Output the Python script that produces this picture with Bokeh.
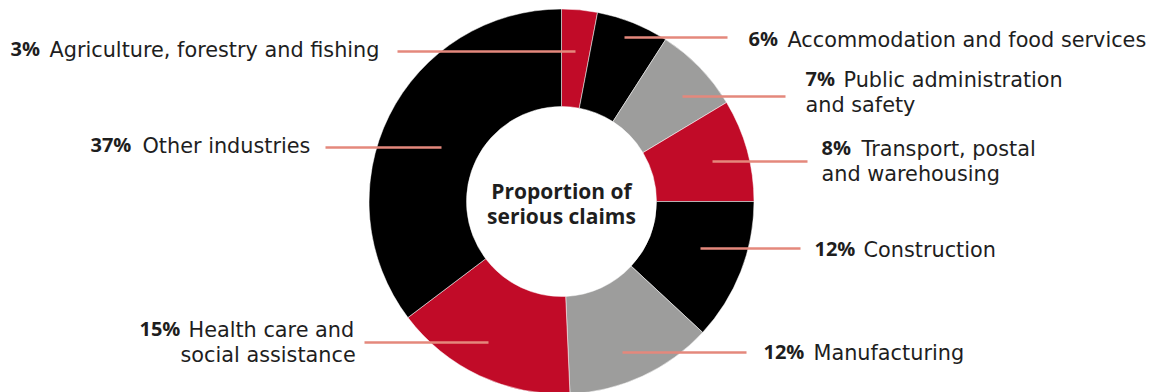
from bokeh.plotting import figure
from bokeh.models import ColumnDataSource, Range1d
from bokeh.core.properties import value
from bokeh.embed import file_html
from bokeh.resources import INLINE
import math

# ---- data ----
categories = ["Agriculture, forestry and fishing", "Accommodation and food services",
              "Public administration and safety", "Transport, postal and warehousing",
              "Construction", "Manufacturing", "Health care and social assistance",
              "Other industries"]
# wedge sizes as drawn in the picture (share of the ring, %)
shares = [3.0, 6.1, 7.3, 8.6, 11.9, 12.4, 15.4, 35.3]
pct_labels = ["3%", "6%", "7%", "8%", "12%", "12%", "15%", "37%"]
label_lines = [["Agriculture, forestry and fishing"],
               ["Accommodation and food services"],
               ["Public administration", "and safety"],
               ["Transport, postal", "and warehousing"],
               ["Construction"],
               ["Manufacturing"],
               ["Health care and", "social assistance"],
               ["Other industries"]]
center_title = ["Proportion of", "serious claims"]

# ---- styles / layout ----
RED, BLACK, GREY = "#C10B28", "#000000", "#9D9D9C"
seg_colors = [RED, BLACK, GREY, RED, BLACK, GREY, RED, BLACK]
LEAD = "#E4887C"
TXT = "#1E1E1E"
FONT_REG = "DejaVu Sans"
FONT_BOLD = "Open Sans"
FS_REG = "20.8px"
FS_BOLD = "20px"
FS_TITLE = "21px"
BOLD_DY = -1.5
W, H = 1161, 392
CX, CY = 561, 201          # screen px
R_OUT, R_IN = 192.5, 95

def sy(y):
    return H - y

# leader lines (screen px): x0, x1, y
leaders = [(397, 575, 51), (624, 727, 37), (682, 785, 96), (712, 807, 161),
           (700, 800, 248), (622, 746, 352), (364, 488, 342), (325, 441, 147)]
# label anchors: bold x, regular x (line 1), line-2 x, text centre y (line 1)
label_pos = [(10, 49, None, 49.5), (748, 787, None, 39.5), (805, 843, 805, 79),
             (821, 861, 821, 148), (814, 863, None, 249), (763, 813, None, 352),
             (139, 188, 180, 329), (90, 142, None, 145)]
LINE_GAP = 25
title_y = [190, 215.5]

p = figure(width=W, height=H, x_range=Range1d(0, W), y_range=Range1d(0, H),
           output_backend="svg", toolbar_location=None, min_border=0)
p.axis.visible = False
p.grid.visible = False
p.outline_line_color = None
p.background_fill_color = "white"
p.border_fill_color = "white"

total = sum(shares)
starts, ends = [], []
cum = 0
for v in shares:
    starts.append(math.pi / 2 - 2 * math.pi * cum / total)
    cum += v
    ends.append(math.pi / 2 - 2 * math.pi * cum / total)

src = ColumnDataSource(dict(x=[CX] * len(shares), y=[sy(CY)] * len(shares),
                            start=starts, end=ends, color=seg_colors, cat=categories,
                            val=shares))
p.annular_wedge(x="x", y="y", inner_radius=R_IN, outer_radius=R_OUT,
                start_angle="start", end_angle="end", direction="clock",
                fill_color="color", line_color="white", line_width=0.5, source=src)

# leader lines
p.segment(x0=[l[0] for l in leaders], x1=[l[1] for l in leaders],
          y0=[sy(l[2]) for l in leaders], y1=[sy(l[2]) for l in leaders],
          line_color=LEAD, line_width=2.6)

# labels
bx, by, bt = [], [], []
rx, ry, rt = [], [], []
for pct, lines, pos in zip(pct_labels, label_lines, label_pos):
    bxp, rxp, x2, yc = pos
    bx.append(bxp); by.append(sy(yc + BOLD_DY)); bt.append(pct)
    rx.append(rxp); ry.append(sy(yc)); rt.append(lines[0])
    if len(lines) > 1:
        rx.append(x2); ry.append(sy(yc + LINE_GAP)); rt.append(lines[1])

p.text(x=bx, y=by, text=bt, text_font=value(FONT_BOLD), text_font_size=FS_BOLD,
       text_font_style="bold", text_color=TXT, text_baseline="middle",
       text_align="left")
p.text(x=rx, y=ry, text=rt, text_font=value(FONT_REG), text_font_size=FS_REG,
       text_color=TXT, text_baseline="middle", text_align="left")

# center title
p.text(x=[CX, CX], y=[sy(v) for v in title_y], text=center_title,
       text_font=value(FONT_BOLD), text_font_size=FS_TITLE, text_font_style="bold",
       text_color=TXT, text_baseline="middle", text_align="center")

open("out.html", "w").write(file_html(p, INLINE))
